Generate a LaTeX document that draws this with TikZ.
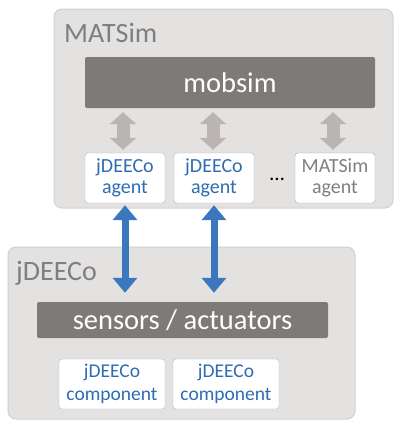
\documentclass[tikz,border=0pt]{standalone}
\usepackage{fontspec}
\setmainfont{Carlito}
\usetikzlibrary{arrows.meta, positioning}
\definecolor{boxgray}{HTML}{E4E1E1}
\definecolor{boxedge}{HTML}{D3D0D0}
\definecolor{bargray}{HTML}{7E7A77}
\definecolor{titlegray}{HTML}{7F7F7F}
\definecolor{arrgray}{HTML}{BAB5B2}
\definecolor{myblue}{HTML}{3A77BD}
\definecolor{agentblue}{HTML}{2F6CB3}
\definecolor{agentedge}{HTML}{9DBDE2}
\definecolor{simedge}{HTML}{A6A6A6}
\tikzset{
  panel/.style={draw=boxedge, fill=boxgray, rounded corners=8pt, line width=1pt},
  paneltitle/.style={anchor=base west, text=titlegray, inner sep=0pt, font=\fontsize{28}{32}\selectfont},
  bar/.style={fill=bargray, rounded corners=2pt, text=white, inner sep=0pt, font=\fontsize{28.5}{32}\selectfont},
  agentbox/.style={draw=agentedge, fill=white, rounded corners=3pt, text=agentblue, align=center,
    font=\fontsize{20}{21}\selectfont, minimum width=80pt, minimum height=50pt, inner sep=0pt},
  grayarr/.style={draw=arrgray, line width=13pt, {Triangle[width=26pt,length=12pt]}-{Triangle[width=26pt,length=12pt]},
    shorten <=3pt, shorten >=4pt},
  bluearr/.style={draw=myblue, line width=7pt, {Triangle[width=24pt,length=15pt]}-{Triangle[width=24pt,length=15pt]},
    shorten <=2pt, shorten >=9pt},
}
\begin{document}
\begin{tikzpicture}[x=1pt, y=-1pt]
  \useasboundingbox (0,0) rectangle (395,421);
  % MATSim side
  \draw [panel] (54,9) rectangle (393,208);
  \node [paneltitle] (matsim) at (64,42) {MATSim};
  \node [bar, minimum width=290pt, minimum height=51pt] (mobsim) at (230,82.5) {mobsim};
  \node [agentbox] (a1) at (125,178) {jDEECo\\agent};
  \node [agentbox] (a2) at (214,178) {jDEECo\\agent};
  \node [agentbox, draw=simedge, text=titlegray] (a3) at (335,178) {MATSim\\agent};
  \node [font=\fontsize{21}{21}\selectfont] (dots) at (277,179) {\dots};
  \draw [grayarr] (a1.north -| 123,0) -- (mobsim.south -| 123,0);
  \draw [grayarr] (a2.north -| 213,0) -- (mobsim.south -| 213,0);
  \draw [grayarr] (a3.north -| 333,0) -- (mobsim.south -| 333,0);
  % jDEECo side
  \draw [panel] (8,247) rectangle (355,419);
  \node [paneltitle] (jdeeco) at (16,280) {jDEECo};
  \node [bar, minimum width=291pt, minimum height=36pt] (sensors) at (182.5,320) {sensors / actuators};
  \node [agentbox, minimum width=106pt, font=\fontsize{19.5}{23}\selectfont] (c1) at (112,384) {jDEECo\\component};
  \node [agentbox, minimum width=106pt, font=\fontsize{19.5}{23}\selectfont] (c2) at (226,384) {jDEECo\\component};
  \draw [bluearr] (a1.south) -- (sensors.north -| a1.south);
  \draw [bluearr] (a2.south) -- (sensors.north -| a2.south);
\end{tikzpicture}
\end{document}
